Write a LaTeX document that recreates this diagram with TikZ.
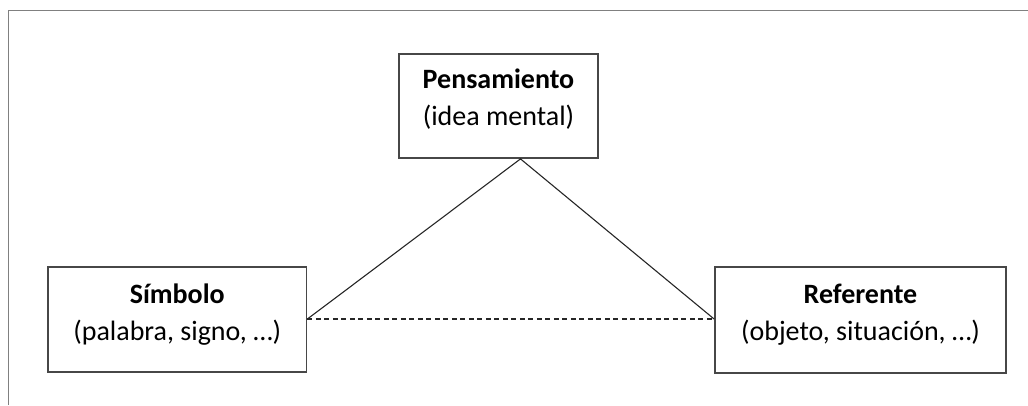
\documentclass[tikz,border=0pt]{standalone}
\usepackage{fontspec}
\setmainfont{Carlito}
\usetikzlibrary{calc}
\begin{document}
\begin{tikzpicture}[x=1pt,y=-1pt,
  framebox/.style={draw=black!72,line width=1.8pt,inner sep=0pt},
  label/.style={align=center,font=\fontsize{28}{37}\selectfont,text=black,inner sep=0pt},
  link/.style={draw=black!85,line width=1.1pt},
  border/.style={draw=black!50,line width=1.6pt}]
  \useasboundingbox (0,0) rectangle (1028,405);
  % page frame (top and left edges only)
  \draw[border] (8.5,405) -- (8.5,10.5) -- (1028,10.5);
  % boxes
  \node[framebox,minimum width=199pt,minimum height=104pt] (pen) at (498.5,106) {};
  \node[framebox,minimum width=258.5pt,minimum height=105pt] (sim) at (177.25,319.5) {};
  \node[framebox,minimum width=291pt,minimum height=106pt] (ref) at (860.5,320) {};
  % labels
  \node[label] (pent) at ($(pen.center)+(0,-7)$) {\textbf{Pensamiento}\\(idea mental)};
  \node[label] (simt) at ($(sim.center)+(0,-5)$) {\textbf{Símbolo}\\(palabra, signo, …)};
  \node[label] (reft) at ($(ref.center)+(0,-5)$) {\textbf{Referente}\\(objeto, situación, …)};
  % connectors
  \coordinate (apex) at ($(pen.south)+(22,0)$);
  \coordinate (simR) at ($(sim.east)+(0,-0.5)$);
  \coordinate (refL) at ($(ref.west)+(0,-1)$);
  \draw[link] (simR) -- (apex) -- (refL);
  \draw[link,dash pattern=on 5pt off 3.5pt] (simR) -- (refL);
\end{tikzpicture}
\end{document}
